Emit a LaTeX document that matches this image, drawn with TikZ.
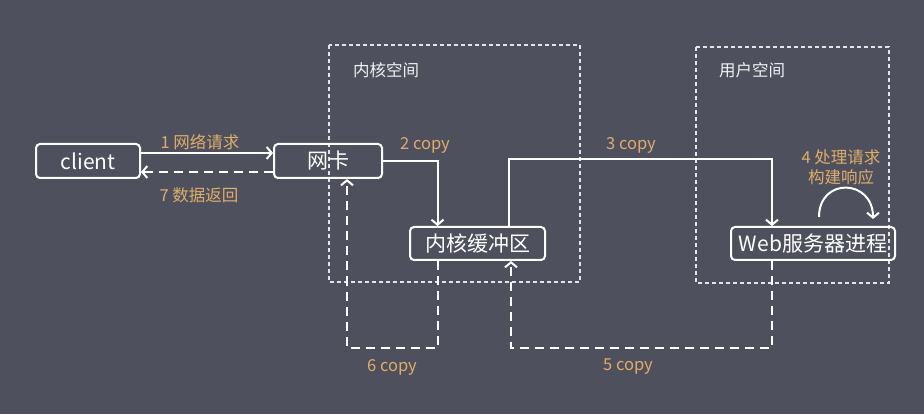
\documentclass[tikz,border=0pt]{standalone}
\usepackage{fontspec}
\setmainfont{Noto Sans CJK SC}
\usepackage{xcolor}
\usepackage{tikz}
\usetikzlibrary{arrows.meta}
\definecolor{bgcol}{RGB}{78,81,93}
\definecolor{labcol}{RGB}{224,172,105}

\begin{document}
\begin{tikzpicture}[x=1pt,y=-1pt,
    box/.style={draw=white,line width=2pt,rounded corners=4pt,text=white,inner sep=0pt,font=\fontsize{21}{24}\selectfont},
    lab/.style={text=labcol,inner sep=0pt,font=\fontsize{16.5}{20}\selectfont},
    area/.style={draw=white!85!bgcol,line width=1.3pt,dash pattern=on 4pt off 3pt},
    flow/.style={draw=white,line width=2pt,-{Straight Barb[length=5pt,width=12pt]}},
    back/.style={flow,dash pattern=on 9pt off 6pt}]
    \fill[bgcol] (0,0) rectangle (924,414);
    \draw[area] (329,45) rectangle (580,282);
    \draw[area] (696,47) rectangle (889,283);
    \node[text=white!92!bgcol,inner sep=0pt,font=\fontsize{16.5}{20}\selectfont] (kspace) at (386,70) {内核空间};
    \node[text=white!92!bgcol,inner sep=0pt,font=\fontsize{16.5}{20}\selectfont] (uspace) at (752,70) {用户空间};
    \node[box,minimum width=104pt,minimum height=34pt] (client) at (88,161) {client};
    \node[box,minimum width=108pt,minimum height=34pt] (nic) at (328,161) {网卡};
    \node[box,minimum width=135pt,minimum height=33pt] (buf) at (477.5,243.5) {内核缓冲区};
    \node[box,minimum width=164pt,minimum height=33pt] (web) at (813,243.5) {Web服务器进程};
    \draw[flow] ([yshift=8pt]client.east) -- ([yshift=8pt]nic.west);
    \draw[back] ([yshift=-11pt]nic.west) -- ([yshift=-11pt]client.east);
    \draw[flow] (nic.east) -| ([xshift=-40pt]buf.north);
    \draw[flow] ([xshift=31pt]buf.north) -- ++(0,-67) -| ([xshift=-41pt]web.north);
    \draw[back] ([xshift=-41pt]web.south) -- ++(0,87) -| ([xshift=33.5pt]buf.south);
    \draw[back] ([xshift=-40pt]buf.south) -- ++(0,87) -| ([xshift=19pt]nic.south);
    \draw[flow] ([xshift=6pt,yshift=9pt]web.north) to[out=90,in=90,looseness=1.9] ([xshift=60pt,yshift=7pt]web.north);
    \node[lab] (req) at (200,142) {1 网络请求};
    \node[lab] (copy2) at (425,145) {2 copy};
    \node[lab] (copy3) at (631,145) {3 copy};
    \node[lab,align=center] (proc) at (841,167.5) {4 处理请求\\构建响应};
    \node[lab] (copy5) at (628,367) {5 copy};
    \node[lab] (copy6) at (392,367) {6 copy};
    \node[lab] (ret) at (199,195) {7 数据返回};
\end{tikzpicture}
\end{document}
